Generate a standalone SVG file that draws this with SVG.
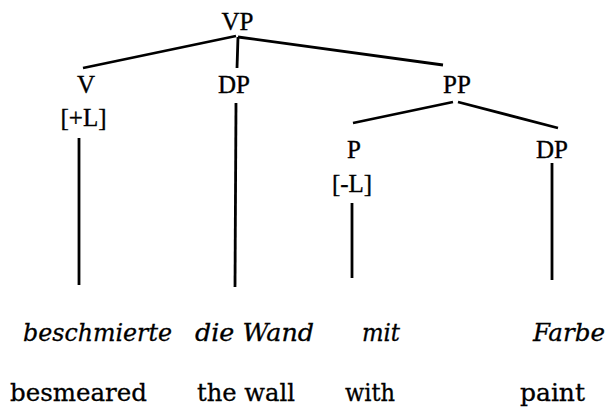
<svg xmlns="http://www.w3.org/2000/svg" width="610" height="410" viewBox="0 0 610 410">
<style>
  .lbl { font-family: "Liberation Serif", "Times New Roman", serif; font-size: 25px; fill: #000; stroke: #000; stroke-width: 0.35; text-anchor: middle; }
  .it { font-family: "DejaVu Serif", "Liberation Serif", serif; font-size: 24px; font-style: italic; fill: #000; stroke: #000; stroke-width: 0.3; }
  .gl { font-family: "DejaVu Serif", "Liberation Serif", serif; font-size: 24px; fill: #000; stroke: #000; stroke-width: 0.3; }
  .edge { stroke: #000; stroke-width: 2.8; stroke-linecap: butt; fill: none; }
</style>
<rect width="610" height="410" fill="#fff"/>
<g id="connectors">
  <line class="edge" x1="236" y1="36" x2="83" y2="68"/>
  <line class="edge" x1="238" y1="37" x2="237" y2="68"/>
  <line class="edge" x1="238" y1="37" x2="443" y2="65"/>
  <line class="edge" x1="79" y1="138" x2="79" y2="285"/>
  <line class="edge" x1="236" y1="103" x2="235" y2="287"/>
  <line class="edge" x1="453" y1="102" x2="353" y2="123"/>
  <line class="edge" x1="458" y1="102" x2="558" y2="128"/>
  <line class="edge" x1="352" y1="203" x2="352" y2="278"/>
  <line class="edge" x1="552" y1="163" x2="552" y2="280"/>
</g>
<g id="VP"><text class="lbl" x="237.5" y="30">VP</text></g>
<g id="V"><text class="lbl" x="86" y="93">V</text><text class="lbl" x="83.5" y="126">[+L]</text></g>
<g id="DP1"><text class="lbl" x="234" y="93">DP</text></g>
<g id="PP"><text class="lbl" x="457" y="93">PP</text></g>
<g id="P"><text class="lbl" x="354" y="158">P</text><text class="lbl" x="352" y="192">[-L]</text></g>
<g id="DP2"><text class="lbl" x="552" y="158">DP</text></g>
<g id="words">
  <text class="it" x="23" y="341" textLength="149" lengthAdjust="spacingAndGlyphs">beschmierte</text>
  <text class="it" x="195" y="341" textLength="119" lengthAdjust="spacingAndGlyphs">die Wand</text>
  <text class="it" x="362" y="341" textLength="38" lengthAdjust="spacingAndGlyphs">mit</text>
  <text class="it" x="533" y="341" textLength="72" lengthAdjust="spacingAndGlyphs">Farbe</text>
</g>
<g id="glosses">
  <text class="gl" x="10" y="401" textLength="137" lengthAdjust="spacingAndGlyphs">besmeared</text>
  <text class="gl" x="197" y="401" textLength="98" lengthAdjust="spacingAndGlyphs">the wall</text>
  <text class="gl" x="345" y="401" textLength="50" lengthAdjust="spacingAndGlyphs">with</text>
  <text class="gl" x="520" y="401" textLength="65" lengthAdjust="spacingAndGlyphs">paint</text>
</g>
</svg>
